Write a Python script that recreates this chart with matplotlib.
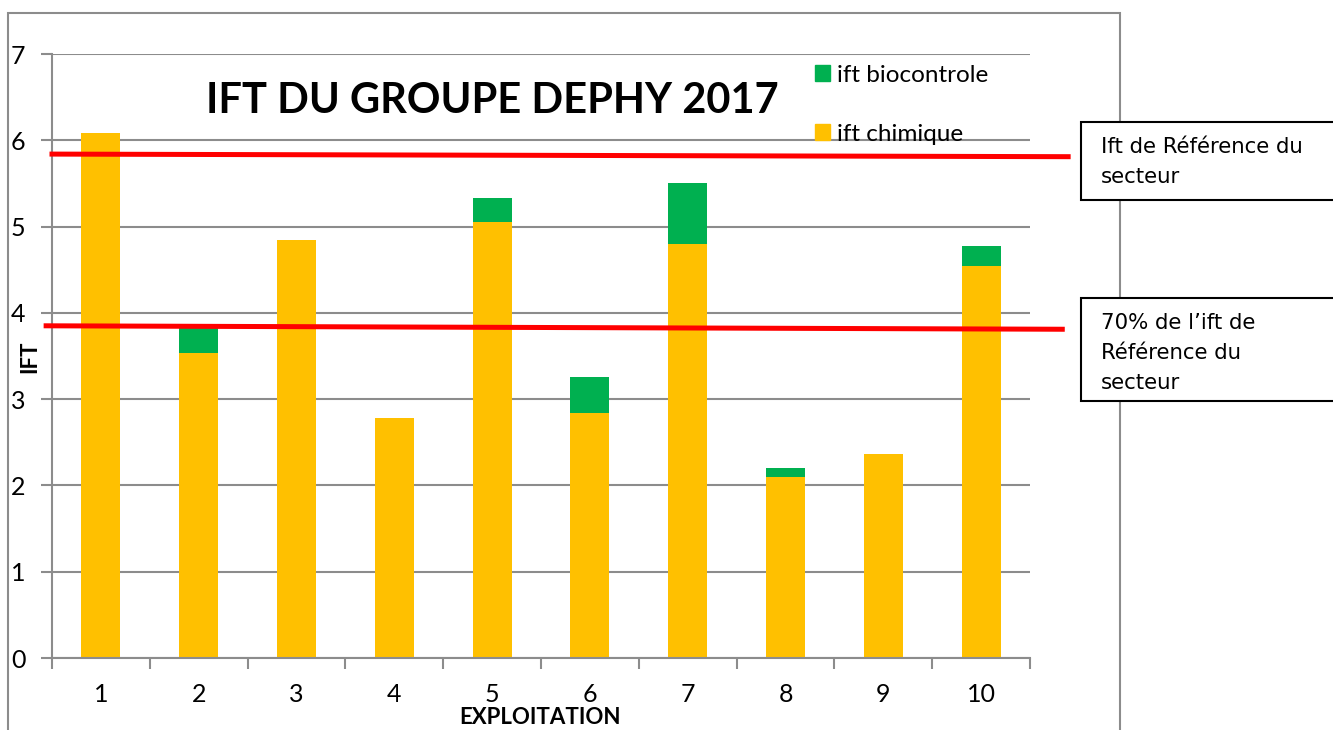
import matplotlib.pyplot as plt
from matplotlib.patches import Rectangle, Patch

plt.rcParams['font.family'] = ['Lato', 'DejaVu Sans']

# donnees
exploitations = ["1", "2", "3", "4", "5", "6", "7", "8", "9", "10"]
ift_chimique = [6.08, 3.54, 4.85, 2.78, 5.05, 2.84, 4.80, 2.10, 2.37, 4.54]
ift_biocontrole = [0.0, 0.33, 0.0, 0.0, 0.28, 0.42, 0.71, 0.10, 0.0, 0.23]
ref_secteur = [5.84, 5.81]      # trait rouge du haut (debut, fin)
ref_70 = [3.85, 3.81]           # trait rouge du bas (debut, fin)

jaune = "#FFC000"
vert = "#00B050"
gris = "#8C8C8C"

fig = plt.figure(figsize=(13.33, 7.30), dpi=100)
ax = fig.add_axes([52 / 1333, 72 / 730, 978 / 1333, 604 / 730])

x = list(range(1, len(exploitations) + 1))
ax.bar(x, ift_chimique, width=0.4, color=jaune, zorder=2)
ax.bar(x, ift_biocontrole, width=0.4, bottom=ift_chimique, color=vert, zorder=2)

ax.set_xlim(0.5, 10.5)
ax.set_ylim(0, 7)
ax.set_yticks(range(0, 8))
ax.set_xticks(x)
ax.set_xticklabels(exploitations)
ax.set_xticks([i + 0.5 for i in range(0, 11)], minor=True)
ax.tick_params(axis='x', which='major', length=0, pad=18, labelsize=18)
ax.tick_params(axis='x', which='minor', length=8, width=1.5, color=gris, direction='out')
ax.tick_params(axis='y', length=8, width=1.5, color=gris, pad=11, labelsize=18)
ax.yaxis.grid(True, color=gris, linewidth=1.5, zorder=0)
ax.set_axisbelow(True)
for s in ['top', 'right']:
    ax.spines[s].set_visible(False)
for s in ['left', 'bottom']:
    ax.spines[s].set_color(gris)
    ax.spines[s].set_linewidth(1.5)

ax.set_ylabel("IFT", fontsize=16, fontweight='bold', va='center')
ax.yaxis.set_label_coords(-22 / 978, 301 / 604)
ax.set_xlabel("EXPLOITATION", fontsize=16, fontweight='bold', va='center')
ax.xaxis.set_label_coords(488 / 978, -60 / 604)

# traits de reference
ax.plot([0.5, 10.89], ref_secteur, color="#FF0000", linewidth=3.6, clip_on=False, zorder=3)
ax.plot([0.44, 10.83], ref_70, color="#FF0000", linewidth=3.6, clip_on=False, zorder=3)

ax.text(0.45, 0.922, "IFT DU GROUPE DEPHY 2017", transform=ax.transAxes,
        ha='center', va='center', fontsize=30, fontweight='bold')

handles = [Patch(color=vert), Patch(color=jaune)]
ax.legend(handles, ["ift biocontrole", "ift chimique"], loc='upper left',
          bbox_to_anchor=(0.780, 0.982), frameon=False, fontsize=17.5,
          handlelength=0.62, handleheight=0.62, handletextpad=0.3,
          labelspacing=1.55, borderpad=0, borderaxespad=0)

# cadre du graphique
fig.add_artist(Rectangle((8 / 1333, -0.05), 1112 / 1333, 0.05 + 717 / 730,
                         transform=fig.transFigure, fill=False,
                         edgecolor="#8C8C8C", linewidth=1.5))

# zones de texte
fig.add_artist(Rectangle((1081 / 1333, 1 - 200 / 730), 300 / 1333, 78 / 730,
                         transform=fig.transFigure, facecolor='white',
                         edgecolor='black', linewidth=1.5))
fig.add_artist(Rectangle((1081 / 1333, 1 - 401 / 730), 300 / 1333, 103 / 730,
                         transform=fig.transFigure, facecolor='white',
                         edgecolor='black', linewidth=1.5))
fig.text(1101 / 1333, 1 - 137 / 730, "Ift de Référence du\nsecteur", family='DejaVu Sans',
         fontsize=15.3, va='top', ha='left', linespacing=1.62)
fig.text(1101 / 1333, 1 - 313 / 730, "70% de l\u2019ift de\nRéférence du\nsecteur",
         family='DejaVu Sans', fontsize=15.3, va='top', ha='left', linespacing=1.62)

fig.savefig("out.png", dpi=100)
